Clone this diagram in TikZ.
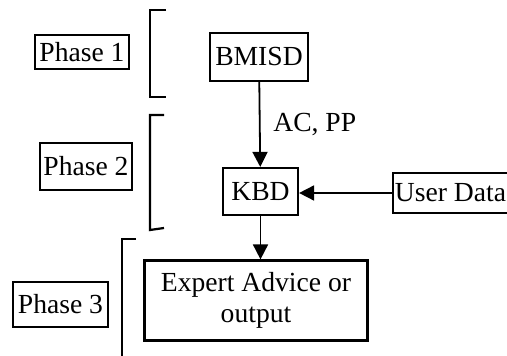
\documentclass[tikz,border=0pt]{standalone}
\usepackage{fontspec}
\setmainfont{Liberation Serif}
\usetikzlibrary{positioning,arrows.meta,calc}

\tikzset{
  blk/.style={draw, line width=1.1pt, inner sep=1pt, align=center},
  flow/.style={line width=0.9pt, -{Triangle[width=7.5pt,length=7.5pt]}},
  brack/.style={line width=1.1pt}
}

\begin{document}
\begin{tikzpicture}[x=0.5pt, y=-0.5pt, font=\fontsize{13.8}{15.5}\selectfont]
  \useasboundingbox (0,0) rectangle (507,356);
  % phase labels and their brackets
  \node[blk, minimum width=47pt, minimum height=17pt] (ph1) at (82,52) {Phase 1};
  \node[blk, minimum width=46pt, minimum height=23.5pt] (ph2) at (86,166.5) {Phase 2};
  \node[blk, minimum width=47.5pt, minimum height=22.5pt] (ph3) at (60.5,304.5) {Phase 3};
  \draw[brack] (166,10) -- (150,10) -- (150,97) -- (166,97);
  \draw[brack] (164,115) -- (150,115) -- (150,230) -- (164,228);
  \draw[brack] (136,239) -- (122,239) -- (122,356);
  % blocks
  \node[blk, minimum width=49pt, minimum height=24pt] (bmisd) at (259,57) {BMISD};
  \node[blk, minimum width=37.5pt, minimum height=23.5pt] (kbd) at (260.5,191.5) {KBD};
  \node[blk, minimum width=55.5pt, minimum height=20pt] (user) at (450.5,193) {User Data};
  \node[blk, minimum width=111.5pt, minimum height=40pt] (expert) at (256,300.5)
    {Expert Advice or\\output};
  % connectors
  \draw[flow] (bmisd) -- node[midway, right=3pt] {AC, PP} (kbd);
  \draw[flow] (user.west) -- (user.west -| kbd.east);
  \draw[flow] (kbd.south) -- (kbd.south |- expert.north);
\end{tikzpicture}
\end{document}
